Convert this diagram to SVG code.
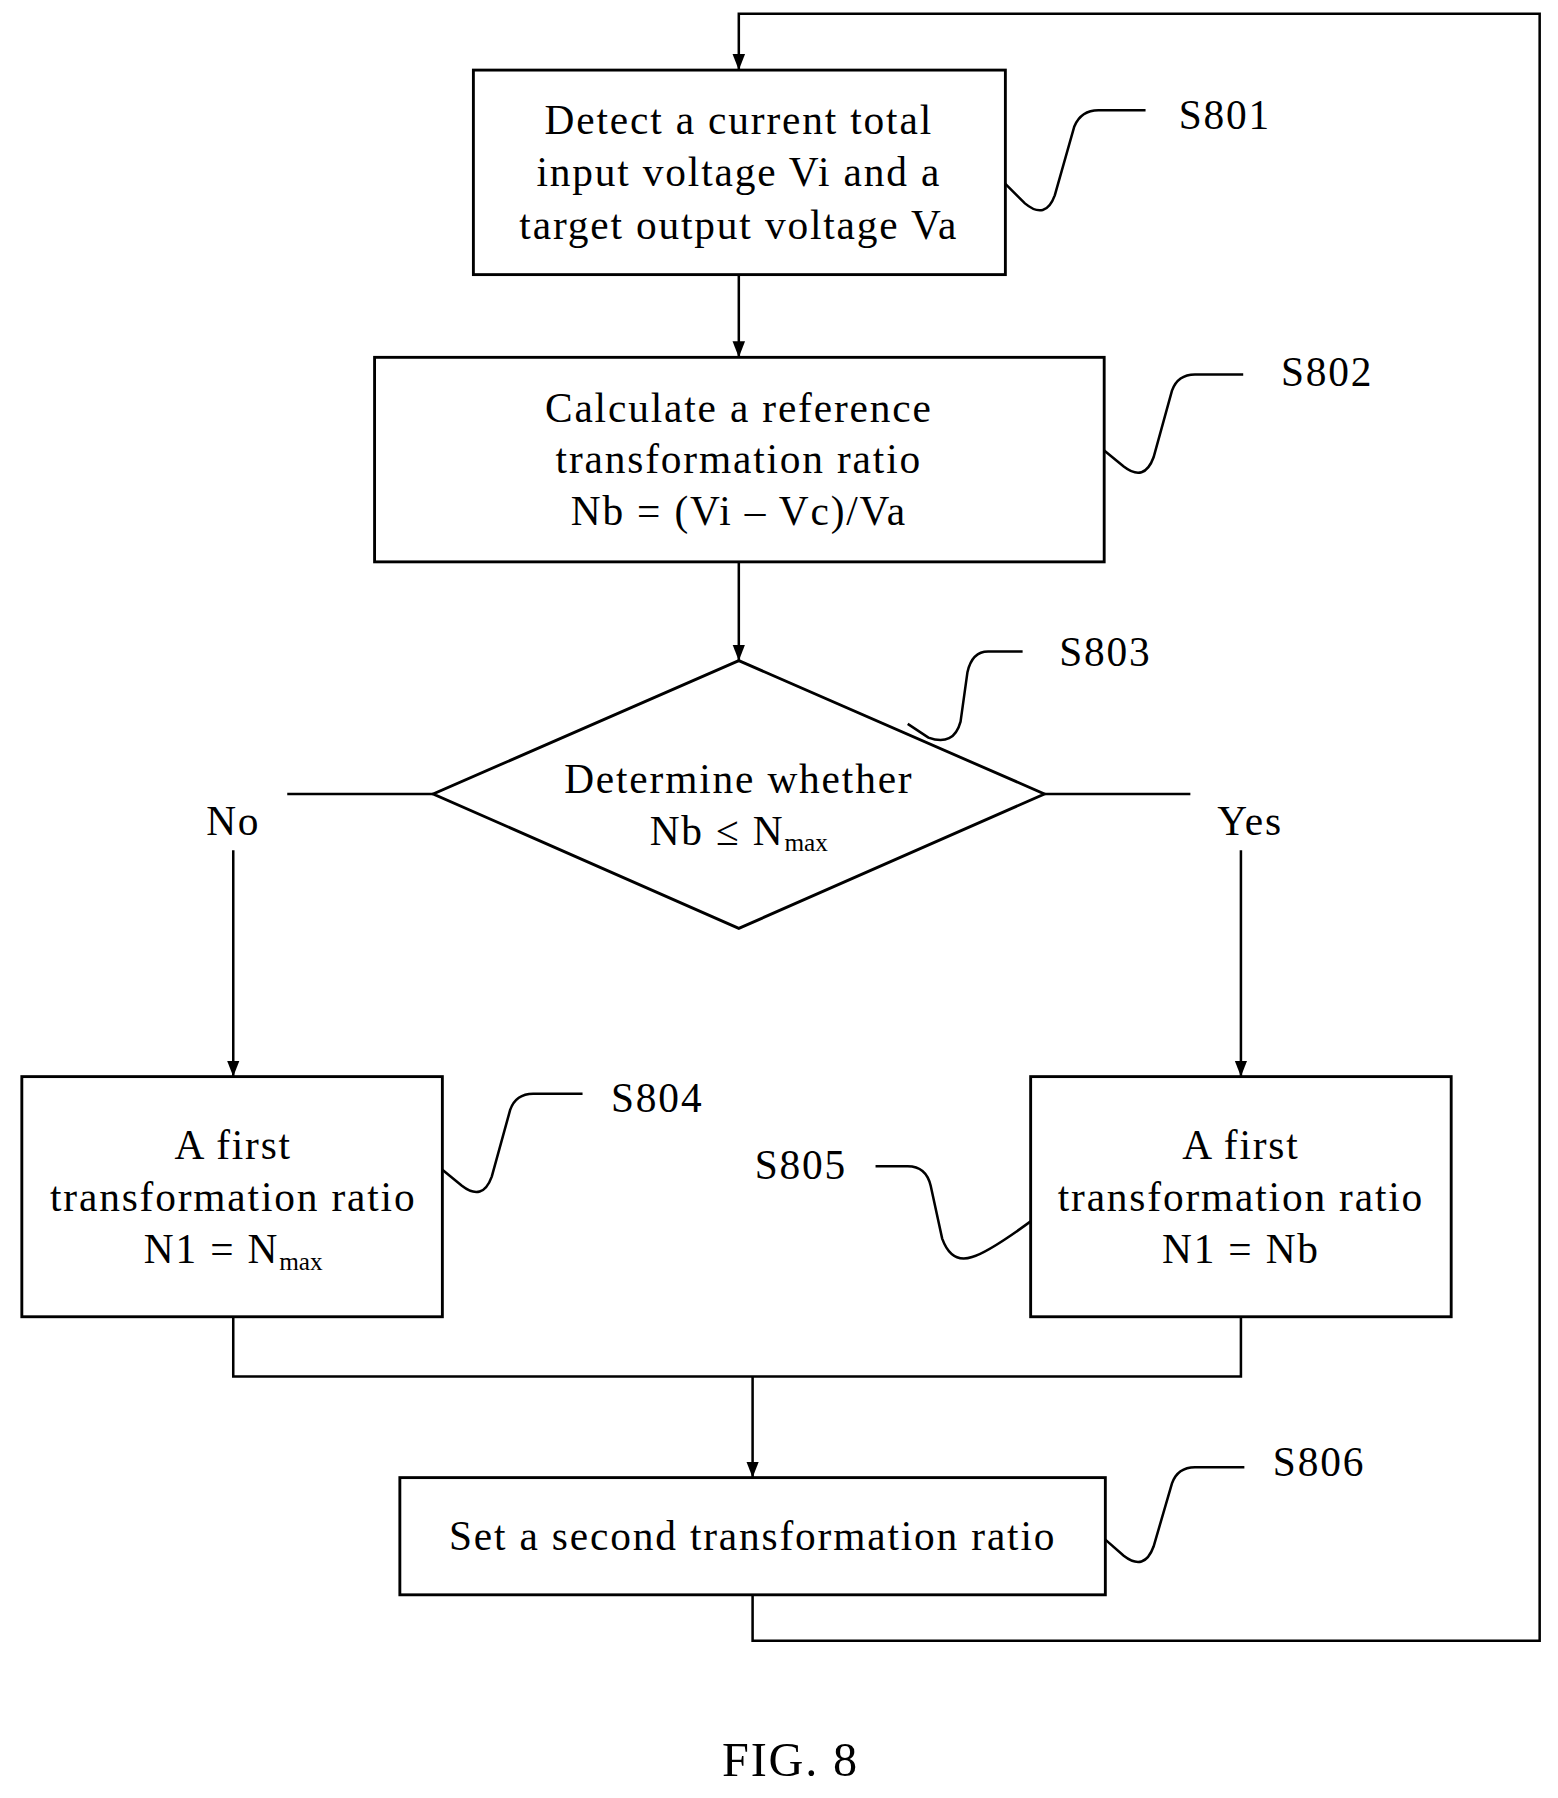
<svg xmlns="http://www.w3.org/2000/svg" width="1558" height="1798" viewBox="0 0 1558 1798">
<style>
.b{fill:none;stroke:#000;stroke-width:2.5}
.l{fill:none;stroke:#000;stroke-width:2.2}
text{font-family:"Liberation Serif","Times New Roman",serif;font-size:36px;letter-spacing:1.6px;text-anchor:middle;fill:#000}
.s{font-size:22px;letter-spacing:0}
</style>
<defs><marker id="a" markerWidth="14" markerHeight="18" refX="18" refY="7" orient="auto" markerUnits="userSpaceOnUse" viewBox="0 0 18 14"><path d="M0,0 L18,7 L0,14z" fill="#000"/></marker></defs>
<rect width="1558" height="1798" fill="#fff"/>
<g transform="scale(1.149)">
<g id="connectors">
<path class="l" d="M655,1388 V1428 H1340 V12 H643 V61" marker-end="url(#a)"/>
<path class="l" d="M643,239 V311" marker-end="url(#a)"/>
<path class="l" d="M643,489 V575" marker-end="url(#a)"/>
<path class="l" d="M250,691 H377 M909,691 H1036"/>
<path class="l" d="M203,740 V937" marker-end="url(#a)"/>
<path class="l" d="M1080,740 V937" marker-end="url(#a)"/>
<path class="l" d="M203,1146 V1198 H1080 V1146"/>
<path class="l" d="M655,1198 V1286" marker-end="url(#a)"/>
<path class="l" d="M875,160 L892,177 Q910,192 918,170 L935,110 Q941,96 956,96 L997,96"/>
<path class="l" d="M961,392 L978,406 Q996,420 1004,398 L1020,340 Q1025,326 1040,326 L1082,326"/>
<path class="l" d="M790,630 L808,642 Q830,650 836,628 L842,585 Q846,567 860,567 L890,567"/>
<path class="l" d="M385,1018 L402,1032 Q420,1046 428,1024 L444,966 Q449,952 464,952 L507,952"/>
<path class="l" d="M762,1015 L790,1015 Q806,1015 810,1032 L820,1078 Q828,1100 846,1094 Q860,1090 897,1063"/>
<path class="l" d="M962,1340 L978,1354 Q996,1368 1004,1346 L1020,1291 Q1025,1277 1040,1277 L1083,1277"/>
</g>
<g id="S801"><rect class="b" x="412" y="61" width="463" height="178"/>
<text x="643" y="117">Detect a current total</text><text x="643" y="162">input voltage Vi and a</text><text x="643" y="208">target output voltage Va</text>
<text x="1066" y="112">S801</text></g>
<g id="S802"><rect class="b" x="326" y="311" width="635" height="178"/>
<text x="643" y="367">Calculate a reference</text><text x="643" y="412">transformation ratio</text><text x="643" y="457">Nb = (Vi – Vc)/Va</text>
<text x="1155" y="336">S802</text></g>
<g id="S803"><path class="b" d="M643,575 L909,691 L643,808 L377,691Z"/>
<text x="643" y="690">Determine whether</text><text x="643" y="735">Nb ≤ N<tspan class="s" dy="6">max</tspan></text>
<text x="962" y="580">S803</text><text x="203" y="727">No</text><text x="1088" y="727">Yes</text></g>
<g id="S804"><rect class="b" x="19" y="937" width="366" height="209"/>
<text x="203" y="1009">A first</text><text x="203" y="1054">transformation ratio</text><text x="203" y="1099">N1 = N<tspan class="s" dy="6">max</tspan></text>
<text x="572" y="968">S804</text></g>
<g id="S805"><rect class="b" x="897" y="937" width="366" height="209"/>
<text x="1080" y="1009">A first</text><text x="1080" y="1054">transformation ratio</text><text x="1080" y="1099">N1 = Nb</text>
<text x="697" y="1026">S805</text></g>
<g id="S806"><rect class="b" x="348" y="1286" width="614" height="102"/>
<text x="655" y="1349">Set a second transformation ratio</text>
<text x="1148" y="1285">S806</text></g>
<text x="688" y="1546" style="font-size:42px">FIG. 8</text>
</g>
</svg>
